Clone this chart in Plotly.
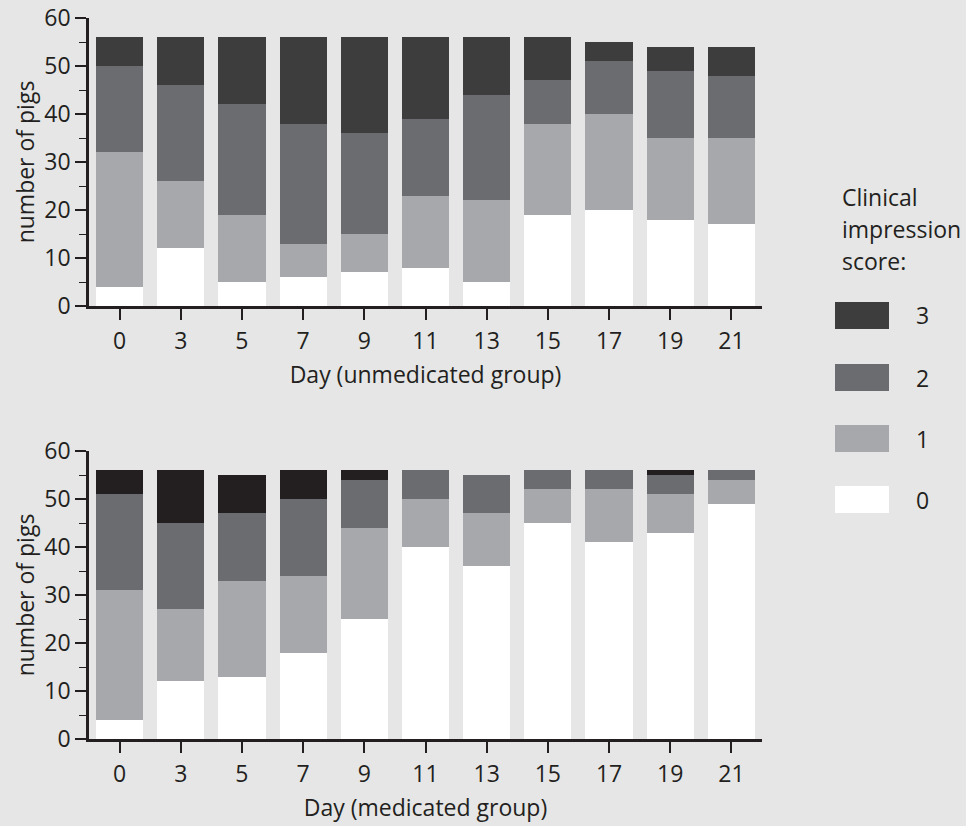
import plotly.graph_objects as go

days = ["0", "3", "5", "7", "9", "11", "13", "15", "17", "19", "21"]
scores = ["0", "1", "2", "3"]

# unmedicated group, counts per clinical impression score
unmed_0 = [4, 12, 5, 6, 7, 8, 5, 19, 20, 18, 17]
unmed_1 = [28, 14, 14, 7, 8, 15, 17, 19, 20, 17, 18]
unmed_2 = [18, 20, 23, 25, 21, 16, 22, 9, 11, 14, 13]
unmed_3 = [6, 10, 14, 18, 20, 17, 12, 9, 4, 5, 6]

# medicated group
med_0 = [4, 12, 13, 18, 25, 40, 36, 45, 41, 43, 49]
med_1 = [27, 15, 20, 16, 19, 10, 11, 7, 11, 8, 5]
med_2 = [20, 18, 14, 16, 10, 6, 8, 4, 4, 4, 2]
med_3 = [5, 11, 8, 6, 2, 0, 0, 0, 0, 1, 0]

legend_title = ["Clinical", "impression", "score:"]

unmed = [unmed_0, unmed_1, unmed_2, unmed_3]
med = [med_0, med_1, med_2, med_3]

col_top = ["#ffffff", "#a7a8ab", "#6b6c70", "#3d3d3d"]
col_bot = ["#ffffff", "#a7a8ab", "#6b6c70", "#231f20"]
legend_cols = ["#ffffff", "#a7a8ab", "#6b6c70", "#3d3d3d"]

BG = "#e6e6e6"
TXT = "#231f20"
FONT = "Open Sans"
FS = 23
W, H = 966, 826

fig = go.Figure()
for i, s in enumerate(scores):
    fig.add_trace(go.Bar(x=days, y=unmed[i], name=s, marker=dict(color=col_top[i], line=dict(width=0)),
                         xaxis="x", yaxis="y", showlegend=False))
for i, s in enumerate(scores):
    fig.add_trace(go.Bar(x=days, y=med[i], name=s, marker=dict(color=col_bot[i], line=dict(width=0)),
                         xaxis="x2", yaxis="y2", showlegend=False))

xd = [89 / W, 762 / W]
top_dom = [1 - 306 / H, 1 - 18 / H]
bot_dom = [1 - 739 / H, 1 - 451 / H]

xcommon = dict(type="category", range=[-0.5, 10.5], showline=True, linecolor=TXT, linewidth=2.5,
               ticks="outside", ticklen=11, tickwidth=1.5, tickcolor=TXT, showgrid=False, zeroline=False,
               tickfont=dict(size=FS, color=TXT, family=FONT), ticklabelstandoff=2, automargin=False,
               title=dict(font=dict(size=FS, color=TXT, family=FONT), standoff=12), fixedrange=True)
ycommon = dict(range=[0, 60], tickvals=[0, 10, 20, 30, 40, 50, 60], showline=True, linecolor=TXT, linewidth=2.5,
               ticks="outside", ticklen=11, tickwidth=1.5, tickcolor=TXT, showgrid=False, zeroline=False,
               minor=dict(tickvals=[5, 15, 25, 35, 45, 55], ticks="outside", ticklen=7, tickwidth=1.2, tickcolor=TXT),
               tickfont=dict(size=FS, color=TXT, family=FONT), ticklabelstandoff=0, automargin=False,
               title=dict(text="number of pigs", font=dict(size=FS, color=TXT, family=FONT), standoff=4),
               fixedrange=True)

fig.update_layout(
    width=W, height=H,
    margin=dict(l=0, r=0, t=0, b=0, autoexpand=False),
    paper_bgcolor=BG, plot_bgcolor=BG,
    barmode="stack", bargap=0.23,
    font=dict(family=FONT, color=TXT),
    xaxis=dict(domain=xd, anchor="y", **{**xcommon, "title": dict(xcommon["title"], text="Day (unmedicated group)")}),
    yaxis=dict(domain=top_dom, anchor="x", **ycommon),
    xaxis2=dict(domain=xd, anchor="y2", **{**xcommon, "title": dict(xcommon["title"], text="Day (medicated group)")}),
    yaxis2=dict(domain=bot_dom, anchor="x2", **ycommon),
)

# legend (drawn manually to match the large swatches)
title_y = [197, 229, 261]
for t, yy in zip(legend_title, title_y):
    fig.add_annotation(x=840 / W, y=1 - yy / H, xref="paper", yref="paper", xanchor="left", yanchor="middle",
                       showarrow=False, text=t, font=dict(size=FS, color=TXT, family=FONT))
sw_top = [486, 425, 364, 302]
for i, s in enumerate(scores):
    y0 = sw_top[i]
    fig.add_shape(type="rect", xref="paper", yref="paper", x0=835 / W, x1=889 / W,
                  y0=1 - (y0 + 27) / H, y1=1 - y0 / H, fillcolor=legend_cols[i], line=dict(width=0))
    fig.add_annotation(x=922 / W, y=1 - (y0 + 13.5) / H, xref="paper", yref="paper", xanchor="center",
                       yanchor="middle", showarrow=False, text=s, font=dict(size=FS, color=TXT, family=FONT))

fig.write_html("out.html", config=dict(displayModeBar=False),
               post_script="document.body.style.margin='0';document.body.style.overflow='hidden';")
